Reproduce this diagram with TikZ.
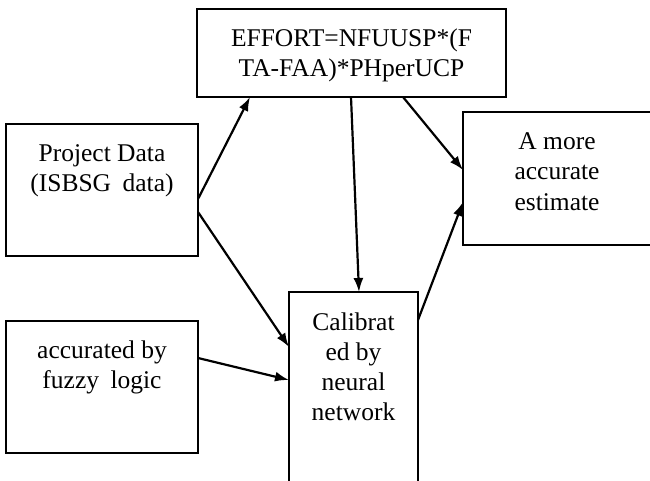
\documentclass[tikz,border=0pt]{standalone}
\usepackage{fontspec}
\setmainfont{Liberation Serif}
\usetikzlibrary{arrows.meta}
\begin{document}
\begin{tikzpicture}[x=1pt,y=-1pt,
  box/.style={draw,line width=1.8pt,rectangle,inner sep=0pt,outer sep=0pt,anchor=north west},
  txt/.style={inner sep=0pt,outer sep=0pt,anchor=base,font=\fontsize{25.5}{30}\selectfont},
  conn/.style={line width=2.2pt,-{Latex[length=14pt,width=10pt]}}]
\useasboundingbox (0,0) rectangle (650,481);
\clip (0,0) rectangle (650,481);
\node[box,minimum width=309pt,minimum height=88pt] (eff) at (197,9) {};
\node[box,minimum width=192pt,minimum height=132pt] (pd) at (6,124) {};
\node[box,minimum width=188pt,minimum height=133pt] (est) at (463,112) {};
\node[box,minimum width=129pt,minimum height=208pt] (cal) at (289,292) {};
\node[box,minimum width=192pt,minimum height=132pt] (fz) at (6,321) {};
\node[txt] (efft) at ([shift={(0,38)}]eff.north) {\begin{tabular}[t]{@{}c@{}}EFFORT=NFUUSP*(F\\TA-FAA)*PHperUCP\end{tabular}};
\node[txt] (pdt) at ([shift={(0,38)}]pd.north) {\begin{tabular}[t]{@{}c@{}}Project Data\\(ISBSG\hskip0.45em data)\end{tabular}};
\node[txt] (estt) at ([shift={(0,38)}]est.north) {\begin{tabular}[t]{@{}c@{}}A more\\accurate\\estimate\end{tabular}};
\node[txt] (calt) at ([shift={(0,38)}]cal.north) {\begin{tabular}[t]{@{}c@{}}Calibrat\\ed by\\neural\\network\end{tabular}};
\node[txt] (fzt) at ([shift={(0,37)}]fz.north) {\begin{tabular}[t]{@{}c@{}}accurated by\\fuzzy\hskip0.45em logic\end{tabular}};
\draw[conn] ([shift={(0,75)}]pd.north east) -- ([shift={(53,0)}]eff.south west);
\draw[conn] ([shift={(0,88)}]pd.north east) -- ([shift={(0,55)}]cal.north west);
\draw[conn] ([shift={(154,0)}]eff.south west) -- ([shift={(70,0)}]cal.north west);
\draw[conn] ([shift={(206,0)}]eff.south west) -- ([shift={(0,58)}]est.north west);
\draw[conn] ([shift={(0,28)}]cal.north east) -- ([shift={(0,90)}]est.north west);
\draw[conn] ([shift={(0,37)}]fz.north east) -- ([shift={(0,88)}]cal.north west);
\end{tikzpicture}
\end{document}
